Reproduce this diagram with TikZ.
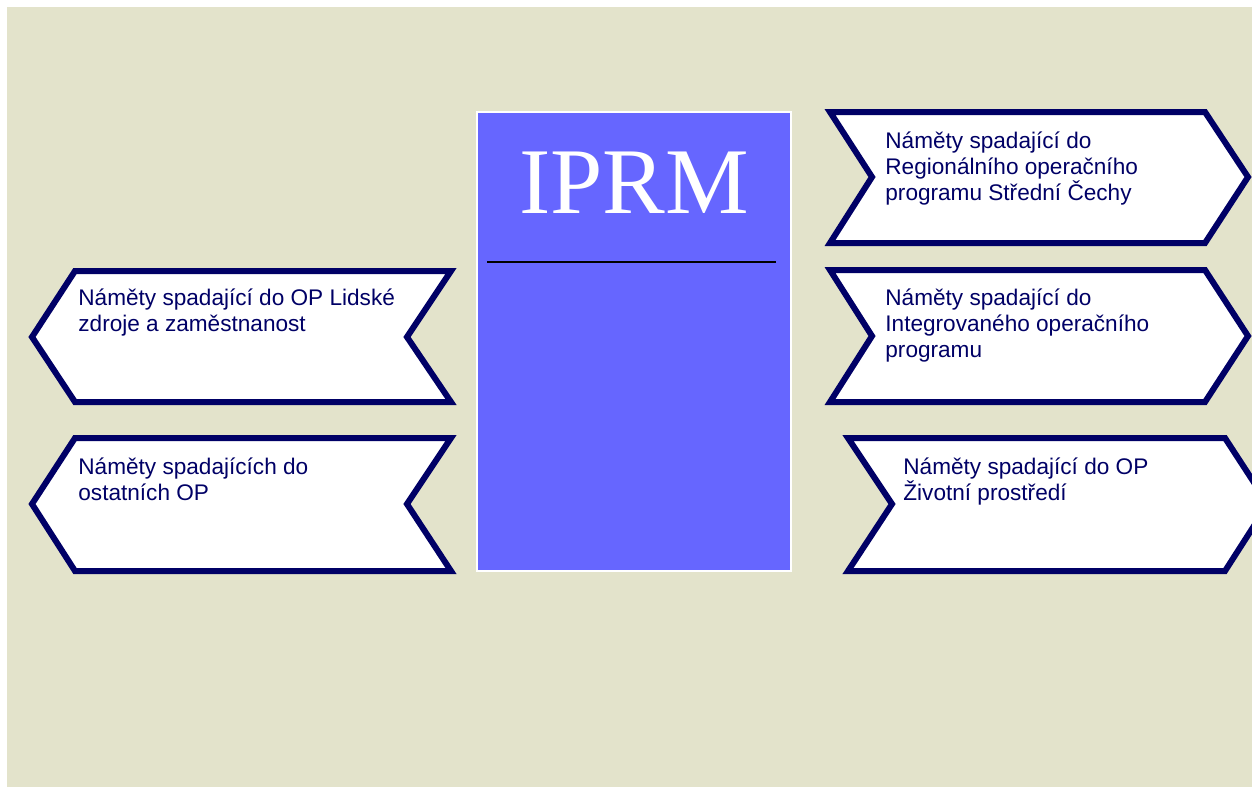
\documentclass[tikz,border=0pt]{standalone}
\usepackage{fontspec}
\setmainfont{Liberation Serif}
\newfontfamily\arialf{Liberation Sans}
\definecolor{bgbeige}{HTML}{E3E3CB}
\definecolor{navy}{HTML}{000066}
\definecolor{boxblue}{HTML}{6666FF}
\begin{document}
\begin{tikzpicture}[x=0.5pt,y=-0.5pt,
  chev/.style={draw=navy,fill=white,line width=3pt,line join=miter},
  lbl/.style={anchor=north west,inner sep=0pt,align=left,text=navy,
    font=\arialf\fontsize{11.3pt}{13pt}\selectfont}]
\useasboundingbox (0,0) rectangle (1252,787);
\fill[white] (0,0) rectangle (1252,787);
\fill[bgbeige] (7,7) rectangle (1252,787);
\begin{scope}
\clip (7,7) rectangle (1252,787);
% left shapes
\draw[chev] (451,271) -- (75,271) -- (32,337) -- (75,402) -- (451,402) -- (407,337) -- cycle;
\draw[chev] (451,438) -- (75,438) -- (32,504) -- (75,571) -- (451,571) -- (407,504) -- cycle;
% right shapes
\draw[chev] (830,112) -- (1205,112) -- (1248,177) -- (1205,243) -- (830,243) -- (872,177) -- cycle;
\draw[chev] (830,270) -- (1205,270) -- (1248,336) -- (1205,402) -- (830,402) -- (872,336) -- cycle;
\draw[chev] (848,438) -- (1225,438) -- (1268,504) -- (1225,571) -- (848,571) -- (892,504) -- cycle;
\end{scope}
% center box
\draw[fill=boxblue,draw=white,line width=1pt] (477,112) rectangle (791,571);
\node[anchor=base,inner sep=0pt,text=white,font=\fontsize{47pt}{50pt}\selectfont] (iprm) at (634,213) {IPRM};
\coordinate (ll) at (487,262);
\coordinate (lr) at (776,262);
\draw[black,line width=1pt] (ll) -- (lr);
% labels
\node[lbl] (t1) at (78,288) {Náměty spadající do OP Lidské\\zdroje a zaměstnanost};
\node[lbl] (t2) at (78,457) {Náměty spadajících do\\ostatních OP};
\node[lbl] (t3) at (885,131) {Náměty spadající do\\Regionálního operačního\\programu Střední Čechy};
\node[lbl] (t4) at (885,288) {Náměty spadající do\\Integrovaného operačního\\programu};
\node[lbl] (t5) at (903,457) {Náměty spadající do OP\\Životní prostředí};
\end{tikzpicture}
\end{document}
